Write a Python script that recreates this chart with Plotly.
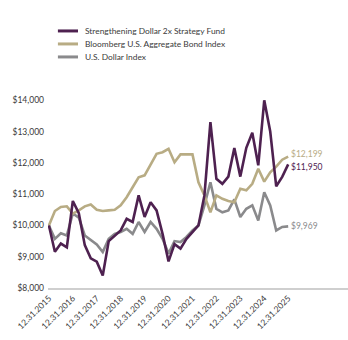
import plotly.graph_objects as go

tick_labels = ["12.31.2015", "12.31.2016", "12.31.2017", "12.31.2018", "12.31.2019",
               "12.31.2020", "12.31.2021", "12.31.2022", "12.31.2023", "12.31.2024", "12.31.2025"]
y_ticks = [8000, 9000, 10000, 11000, 12000, 13000, 14000]

names = ["Strengthening Dollar 2x Strategy Fund", "Bloomberg U.S. Aggregate Bond Index", "U.S. Dollar Index"]
colors = ["#4E2150", "#B8AC84", "#8A8A8C"]

fund = [10000, 9160, 9420, 9300, 10780, 10390, 9370, 8950, 8840, 8400,
        9500, 9680, 9840, 10210, 10110, 10960, 10270, 10740, 10480, 9730,
        8850, 9400, 9260, 9570, 9790, 10000, 10960, 13300, 11490, 11330,
        11560, 12470, 11560, 12480, 12960, 11920, 14000, 13000, 11250, 11550,
        11950]
bond = [10000, 10460, 10590, 10610, 10380, 10480, 10610, 10670, 10500, 10460,
        10480, 10500, 10640, 10900, 11220, 11540, 11600, 11970, 12290, 12340,
        12450, 12020, 12270, 12270, 12270, 11380, 10960, 10420, 10960, 10850,
        10780, 10740, 11170, 11120, 11330, 11810, 11400, 11700, 11880, 12100,
        12199]
dollar = [10000, 9570, 9750, 9680, 10380, 10250, 9680, 9520, 9390, 9150,
          9570, 9730, 9790, 9890, 9730, 10110, 9790, 10110, 9890, 9570,
          9100, 9500, 9470, 9630, 9840, 10000, 10640, 11380, 10530, 10420,
          10480, 10830, 10270, 10530, 10640, 10160, 11060, 10640, 9840, 9950,
          9969]

series = [fund, bond, dollar]
x = list(range(len(fund)))
FONT = "Lato"
TXT = "#3a3a3a"

fig = go.Figure()
for idx in [2, 1, 0]:
    fig.add_trace(go.Scatter(x=x, y=series[idx], mode="lines", name=names[idx],
                             line=dict(color=colors[idx], width=2.6),
                             showlegend=False, hoverinfo="skip"))

# end labels (small vertical nudges keep the two upper labels apart)
nudges = [-3, 3, 0]
for idx in range(3):
    v = series[idx][-1]
    fig.add_annotation(x=x[-1], y=v, text=f"${v:,}", xanchor="left", yanchor="middle",
                       xshift=1, yshift=nudges[idx], showarrow=False,
                       font=dict(family=FONT, size=8.5, color=colors[idx]))

# manual legend
legend_y = [1.325, 1.258, 1.191]
for idx in range(3):
    fig.add_shape(type="line", xref="paper", yref="paper", x0=0.033, x1=0.1,
                  y0=legend_y[idx], y1=legend_y[idx],
                  line=dict(color=colors[idx], width=3))
    fig.add_annotation(xref="paper", yref="paper", x=0.115, y=legend_y[idx],
                       text=names[idx], xanchor="left", yanchor="middle", showarrow=False,
                       font=dict(family=FONT, size=8.4, color=TXT))

fig.update_layout(
    width=348, height=340,
    margin=dict(l=48, r=0, t=94, b=52),
    paper_bgcolor="white", plot_bgcolor="white",
    font=dict(family=FONT, size=8.5, color=TXT),
    showlegend=False,
)
fig.update_xaxes(range=[-0.15, 50], tickvals=list(range(0, 41, 4)), ticktext=tick_labels,
                 tickangle=-45, showgrid=False, zeroline=False,
                 showline=True, linecolor="#CFCFCF", linewidth=2, ticks="",
                 tickfont=dict(family=FONT, size=8.5, color=TXT))
fig.update_yaxes(range=[8000, 14200], tickvals=y_ticks,
                 ticktext=[f"${v:,}" for v in y_ticks], showgrid=False, zeroline=False,
                 showline=False, ticks="", ticklabelstandoff=3,
                 tickfont=dict(family=FONT, size=8.5, color=TXT))

fig.write_html("out.html")
